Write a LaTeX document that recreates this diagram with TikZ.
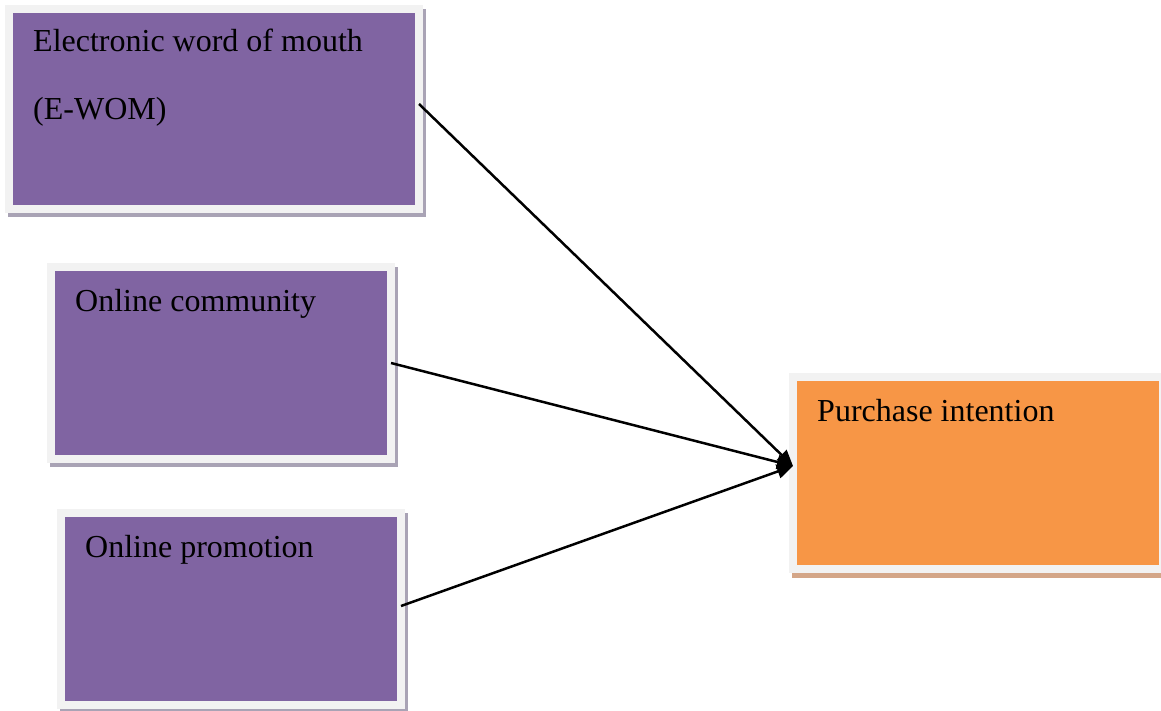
\documentclass[tikz,border=0pt]{standalone}
\usepackage{fontspec}
\setmainfont{Liberation Serif}
\usetikzlibrary{arrows.meta,calc}
\definecolor{boxpurple}{HTML}{8064A2}
\definecolor{boxorange}{HTML}{F79646}
\definecolor{framegrey}{HTML}{F2F2F2}
\definecolor{shadowpurple}{HTML}{A9A3B5}
\definecolor{shadoworange}{HTML}{D4A688}
\begin{document}
\begin{tikzpicture}[x=1pt,y=-1pt,
  varbox/.style={rectangle, draw=framegrey, line width=8pt, inner sep=0pt, outer sep=0pt, fill=#1},
  shadowbox/.style={rectangle, draw=none, inner sep=0pt, outer sep=0pt, fill=#1},
  lbl/.style={inner sep=0pt, anchor=base west, align=left, font=\fontsize{32}{68}\selectfont},
  conn/.style={line width=2.5pt, -{Triangle[length=16pt,width=14pt]}}]
\useasboundingbox (0,0) rectangle (1161,711);
\clip (0,0) rectangle (1161,711);
% shadows
\node[shadowbox=shadowpurple, minimum width=418pt, minimum height=208pt] (ewomsh) at (217,113) {};
\node[shadowbox=shadowpurple, minimum width=348pt, minimum height=200pt] (commsh) at (224,367) {};
\node[shadowbox=shadowpurple, minimum width=348pt, minimum height=200pt] (promsh) at (234,613) {};
\node[shadowbox=shadoworange, minimum width=378pt, minimum height=200pt] (pish) at (981,478) {};
% boxes
\node[varbox=boxpurple, minimum width=410pt, minimum height=200pt] (ewom) at (214,109) {};
\node[varbox=boxpurple, minimum width=340pt, minimum height=192pt] (comm) at (221,363) {};
\node[varbox=boxpurple, minimum width=340pt, minimum height=192pt] (prom) at (231,609) {};
\node[varbox=boxorange, minimum width=370pt, minimum height=192pt] (pi) at (978,473) {};
% labels
\node[lbl] (ewomt1) at (33,52) {Electronic word of mouth};
\node[lbl] (ewomt2) at (33,120) {(E-WOM)};
\node[lbl] (commt) at (75,311) {Online community};
\node[lbl] (promt) at (85,557) {Online promotion};
\node[lbl] (pit) at (817,421) {Purchase intention};
% connectors
\coordinate (tip) at ($(pi.west)+(0,-7)$);
\draw[conn] ($(ewom.east)+(0,-5)$) -- (tip);
\draw[conn] (comm.east) -- (tip);
\draw[conn] ($(prom.east)+(0,-3)$) -- (tip);
\end{tikzpicture}
\end{document}
